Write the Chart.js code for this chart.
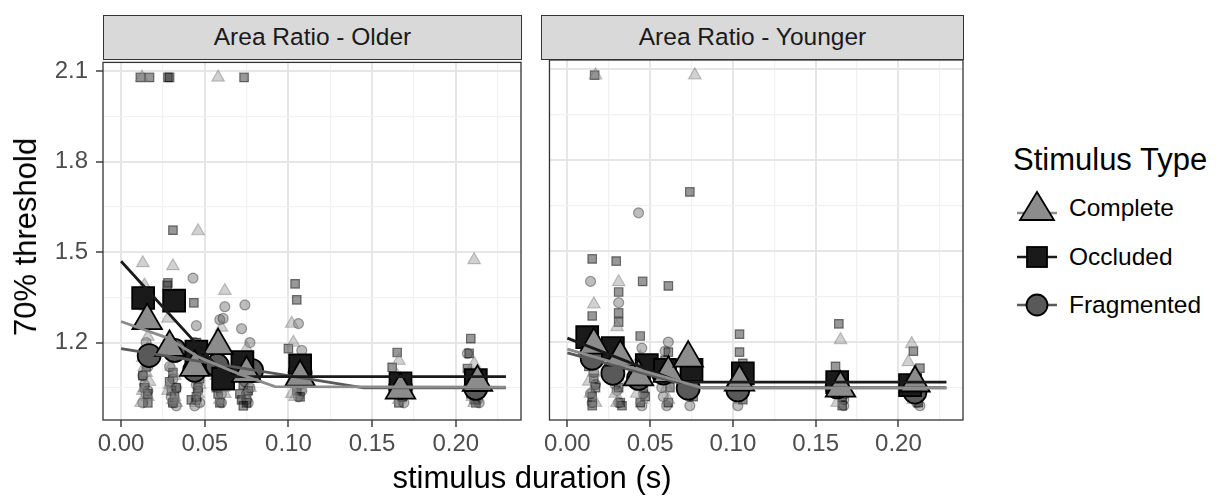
<!DOCTYPE html>
<html lang="en">
<head>
<meta charset="UTF-8">
<title>Area Ratio thresholds</title>
<script src="https://cdn.jsdelivr.net/npm/chart.js@4.4.0/dist/chart.umd.min.js"></script>
<style>
    body {
        margin: 0;
        width: 1231px;
        height: 498px;
        position: relative;
        overflow: hidden;
        background: #fff;
        font-family: "Liberation Sans", Arial, sans-serif;
    }
    .strip {
        position: absolute;
        top: 15px;
        height: 45px;
        background: #d9d9d9;
        border: 1.3px solid #333;
        box-sizing: border-box;
        text-align: center;
        line-height: 42px;
        font-size: 24.5px;
        color: #1a1a1a;
    }
    .panel { position: absolute; top: 40px; }
    #yTitle {
        position: absolute;
        left: 26px;
        top: 237px;
        transform: translate(-50%, -50%) rotate(-90deg);
        font-size: 31px;
        color: #000;
        white-space: nowrap;
    }
    #xTitle {
        position: absolute;
        left: 532px;
        top: 478px;
        transform: translate(-50%, -50%);
        font-size: 31px;
        color: #000;
        white-space: nowrap;
    }
    #legend { position: absolute; left: 1015px; top: 142px; }
    #legend .title { font-size: 31px; line-height: 36px; color: #000; margin-bottom: 6px; margin-left: -2px; }
    #legend .item { display: flex; align-items: center; height: 48.5px; }
    #legend .item span { font-size: 24.5px; color: #000; margin-left: 10px; }
</style>
</head>
<body>
<div class="strip" style="left:103px; width:419px;">Area Ratio - Older</div>
<div class="strip" style="left:541px; width:423px;">Area Ratio - Younger</div>
<div class="panel" style="left:0;"><canvas id="older" width="524" height="440"></canvas></div>
<div class="panel" style="left:541px;"><canvas id="younger" width="425" height="440"></canvas></div>
<div id="yTitle">70% threshold</div>
<div id="xTitle">stimulus duration (s)</div>
<div id="legend"></div>

<script>
// --- data ---
const stimulusTypes = ['Complete', 'Occluded', 'Fragmented'];
const xMajorTicks = [0, 0.05, 0.10, 0.15, 0.20];
const yMajorTicks = [1.2, 1.5, 1.8, 2.1];

// individual thresholds, [duration, threshold]
const olderComplete = [
    [0.0125, 2.08], [0.058, 2.08], [0.013, 1.464], [0.031, 1.454], [0.046, 1.57], [0.062, 1.372],
    [0.102, 1.263], [0.211, 1.474], [0.014, 1.39], [0.015, 1.32], [0.016, 1.22], [0.013, 1.15],
    [0.015, 1.10], [0.014, 1.05], [0.016, 1.02], [0.012, 1.00], [0.031, 1.20], [0.030, 1.12],
    [0.029, 1.06], [0.032, 1.02], [0.033, 1.00], [0.045, 1.16], [0.044, 1.09], [0.046, 1.03],
    [0.060, 1.25], [0.058, 1.12], [0.061, 1.05], [0.059, 1.01], [0.075, 1.18], [0.076, 1.08],
    [0.074, 1.02], [0.103, 1.20], [0.106, 1.10], [0.107, 1.05], [0.104, 1.02], [0.166, 1.14],
    [0.168, 1.07], [0.167, 1.03], [0.211, 1.13], [0.212, 1.07], [0.210, 1.02],
    [0.017, 1.36], [0.013, 1.28], [0.016, 1.18], [0.014, 1.12], [0.017, 1.07], [0.013, 1.04],
    [0.028, 1.28], [0.030, 1.17], [0.032, 1.09], [0.028, 1.04], [0.031, 1.01], [0.043, 1.12],
    [0.047, 1.06], [0.045, 1.00], [0.057, 1.09], [0.062, 1.03], [0.073, 1.11], [0.077, 1.05],
    [0.105, 1.07], [0.102, 1.03], [0.165, 1.09], [0.169, 1.05], [0.166, 1.01], [0.209, 1.09],
    [0.213, 1.04], [0.211, 1.00]
];
const olderOccluded = [
    [0.0115, 2.08], [0.017, 2.08], [0.028, 2.08], [0.029, 2.08], [0.0735, 2.08], [0.031, 1.573],
    [0.028, 1.398], [0.0275, 1.39], [0.0435, 1.332], [0.104, 1.395], [0.105, 1.342], [0.165, 1.167],
    [0.162, 1.118], [0.209, 1.213], [0.208, 1.164], [0.207, 1.114], [0.015, 1.12], [0.014, 1.05],
    [0.016, 1.00], [0.031, 1.10], [0.030, 1.04], [0.032, 1.02], [0.045, 1.20], [0.044, 1.15],
    [0.046, 1.05], [0.042, 1.01], [0.058, 1.20], [0.057, 1.05], [0.059, 1.00], [0.073, 1.06],
    [0.072, 1.01], [0.075, 1.00], [0.100, 1.18], [0.104, 1.12], [0.106, 1.07], [0.165, 1.04],
    [0.166, 1.00], [0.210, 1.05], [0.211, 1.01],
    [0.013, 1.09], [0.016, 1.03], [0.029, 1.07], [0.033, 1.05], [0.031, 1.00], [0.043, 1.10],
    [0.047, 1.08], [0.045, 1.02], [0.056, 1.12], [0.060, 1.08], [0.058, 1.03], [0.074, 1.09],
    [0.076, 1.04], [0.071, 1.03], [0.073, 0.99], [0.103, 1.09], [0.105, 1.04], [0.107, 1.02],
    [0.167, 1.08], [0.164, 1.06], [0.168, 1.02], [0.212, 1.08], [0.209, 1.03], [0.212, 1.00]
];
const olderFragmented = [
    [0.043, 1.414], [0.062, 1.319], [0.074, 1.325], [0.059, 1.276], [0.061, 1.28], [0.072, 1.246],
    [0.077, 1.20], [0.045, 1.256], [0.106, 1.263], [0.108, 1.174], [0.207, 1.164], [0.015, 1.20],
    [0.016, 1.12], [0.014, 1.06], [0.015, 1.03], [0.013, 1.00], [0.032, 1.15], [0.031, 1.08],
    [0.030, 1.02], [0.033, 0.99], [0.046, 1.13], [0.045, 1.06], [0.047, 1.00], [0.044, 0.99],
    [0.059, 1.09], [0.060, 1.03], [0.074, 1.07], [0.075, 1.03], [0.076, 1.00], [0.105, 1.12],
    [0.107, 1.06], [0.106, 1.02], [0.167, 1.06], [0.168, 1.02], [0.212, 1.05], [0.213, 1.01],
    [0.017, 1.16], [0.013, 1.09], [0.016, 1.04], [0.029, 1.12], [0.033, 1.05], [0.031, 1.00],
    [0.044, 1.20], [0.043, 1.10], [0.046, 1.04], [0.045, 1.01], [0.058, 1.12], [0.061, 1.06],
    [0.060, 1.00], [0.073, 1.10], [0.077, 1.05], [0.075, 1.01], [0.104, 1.08], [0.108, 1.04],
    [0.166, 1.04], [0.169, 1.00], [0.211, 1.08], [0.210, 1.03], [0.214, 1.00]
];
const youngerComplete = [
    [0.017, 2.08], [0.077, 2.08], [0.031, 1.398], [0.016, 1.325], [0.165, 1.207], [0.208, 1.194],
    [0.206, 1.134], [0.015, 1.22], [0.016, 1.10], [0.014, 1.03], [0.030, 1.25], [0.031, 1.12],
    [0.029, 1.03], [0.044, 1.15], [0.043, 1.06], [0.045, 1.01], [0.058, 1.12], [0.060, 1.05],
    [0.073, 1.17], [0.075, 1.08], [0.074, 1.03], [0.104, 1.10], [0.103, 1.04], [0.165, 1.03],
    [0.210, 1.04],
    [0.016, 1.16], [0.013, 1.07], [0.017, 1.00], [0.029, 1.17], [0.032, 1.07], [0.030, 1.00],
    [0.045, 1.09], [0.042, 1.03], [0.059, 1.09], [0.061, 1.01], [0.072, 1.11], [0.076, 1.05],
    [0.105, 1.07], [0.104, 1.01], [0.166, 1.06], [0.163, 1.00], [0.211, 1.07], [0.209, 1.01]
];
const youngerOccluded = [
    [0.0165, 2.08], [0.074, 1.695], [0.015, 1.474], [0.0295, 1.467], [0.0455, 1.40], [0.061, 1.385],
    [0.031, 1.365], [0.015, 1.286], [0.031, 1.296], [0.031, 1.266], [0.044, 1.22], [0.061, 1.167],
    [0.104, 1.226], [0.104, 1.167], [0.164, 1.26], [0.162, 1.12], [0.209, 1.17], [0.213, 1.114],
    [0.014, 1.15], [0.016, 1.08], [0.015, 1.02], [0.030, 1.20], [0.031, 1.10], [0.032, 1.00],
    [0.045, 1.13], [0.046, 1.05], [0.044, 1.00], [0.060, 1.10], [0.061, 1.00], [0.075, 1.06],
    [0.105, 1.05], [0.106, 1.13], [0.166, 1.02], [0.211, 1.03],
    [0.013, 1.12], [0.017, 1.05], [0.015, 0.99], [0.029, 1.15], [0.031, 1.05], [0.033, 0.99],
    [0.043, 1.10], [0.047, 1.02], [0.059, 1.14], [0.062, 1.05], [0.074, 1.10], [0.076, 1.02],
    [0.104, 1.08], [0.106, 1.01], [0.164, 1.05], [0.166, 0.99], [0.210, 1.06], [0.212, 1.00]
];
const youngerFragmented = [
    [0.043, 1.626], [0.014, 1.40], [0.031, 1.33], [0.061, 1.20], [0.015, 1.20], [0.016, 1.10],
    [0.015, 1.00], [0.030, 1.15], [0.029, 1.06], [0.031, 1.00], [0.045, 1.18], [0.044, 1.10],
    [0.046, 1.03], [0.059, 1.17], [0.060, 1.08], [0.058, 1.02], [0.075, 1.10], [0.074, 1.02],
    [0.103, 1.10], [0.104, 1.02], [0.166, 1.06], [0.167, 1.01], [0.210, 1.04], [0.211, 1.00],
    [0.014, 1.14], [0.017, 1.06], [0.014, 1.03], [0.031, 1.12], [0.030, 1.04], [0.046, 1.14],
    [0.043, 1.06], [0.045, 0.99], [0.061, 1.12], [0.057, 1.05], [0.060, 0.99], [0.073, 1.14],
    [0.076, 1.06], [0.074, 0.99], [0.105, 1.06], [0.103, 0.99], [0.164, 1.08], [0.168, 1.03],
    [0.167, 0.99], [0.212, 1.07], [0.209, 1.02], [0.213, 0.99]
];

// group means
const olderCompleteMean = [[0.0156, 1.273], [0.029, 1.184], [0.044, 1.118], [0.058, 1.19], [0.075, 1.098], [0.107, 1.085], [0.167, 1.042], [0.213, 1.068]];
const olderOccludedMean = [[0.0132, 1.348], [0.0317, 1.339], [0.045, 1.17], [0.061, 1.08], [0.0725, 1.135], [0.107, 1.124], [0.167, 1.065], [0.212, 1.075]];
const olderFragmentedMean = [[0.0168, 1.157], [0.032, 1.174], [0.044, 1.108], [0.0575, 1.124], [0.078, 1.108], [0.107, 1.10], [0.167, 1.052], [0.212, 1.048]];
const youngerCompleteMean = [[0.016, 1.19], [0.032, 1.15], [0.043, 1.085], [0.061, 1.097], [0.073, 1.147], [0.104, 1.068], [0.165, 1.048], [0.21, 1.065]];
const youngerOccludedMean = [[0.012, 1.216], [0.0275, 1.18], [0.048, 1.124], [0.059, 1.108], [0.075, 1.108], [0.106, 1.097], [0.163, 1.068], [0.207, 1.058]];
const youngerFragmentedMean = [[0.015, 1.147], [0.0275, 1.097], [0.043, 1.08], [0.058, 1.098], [0.073, 1.048], [0.103, 1.042], [0.163, 1.052], [0.21, 1.035]];

// fitted curves
const olderCompleteFit = [[0, 1.27], [0.028, 1.215], [0.047, 1.15], [0.07, 1.097], [0.092, 1.054], [0.23, 1.052]];
const olderOccludedFit = [[0, 1.47], [0.063, 1.087], [0.23, 1.087]];
const olderFragmentedFit = [[0, 1.18], [0.145, 1.05], [0.23, 1.05]];
const youngerCompleteFit = [[0, 1.177], [0.082, 1.048], [0.229, 1.048]];
const youngerOccludedFit = [[0, 1.213], [0.068, 1.068], [0.229, 1.068]];
const youngerFragmentedFit = [[0, 1.164], [0.078, 1.05], [0.229, 1.05]];

// --- styling ---
const shapes = { Complete: 'triangle', Occluded: 'rect', Fragmented: 'circle' };
const fills = { Complete: '#8c8c8c', Occluded: '#1a1a1a', Fragmented: '#595959' };
const faintFills = { Complete: 'rgba(140,140,140,0.4)', Occluded: 'rgba(26,26,26,0.45)', Fragmented: 'rgba(89,89,89,0.4)' };
const faintBorders = { Complete: 'rgba(110,110,110,0.4)', Occluded: 'rgba(0,0,0,0.5)', Fragmented: 'rgba(0,0,0,0.35)' };
const smallRadius = { Complete: 7.3, Occluded: 6, Fragmented: 5 };
const bigRadius = { Complete: 17, Occluded: 15.5, Fragmented: 11.5 };
const meanOrder = { Complete: 1, Occluded: 2, Fragmented: 3 };
const tickFont = { family: '"Liberation Sans", Arial, sans-serif', size: 24 };

const xy = arr => arr.map(p => ({ x: p[0], y: p[1] }));
const isMajor = (v, list) => list.some(t => Math.abs(t - v) < 1e-6);

function buildDatasets(points, means, fits) {
    const sets = [];
    stimulusTypes.forEach((t, i) => {
        sets.push({
            type: 'line', data: xy(fits[i]), borderColor: fills[t], borderWidth: 2.8,
            pointRadius: 0, fill: false, tension: 0, order: 0
        });
        sets.push({
            type: 'scatter', data: xy(means[i]), pointStyle: shapes[t], pointRadius: bigRadius[t],
            backgroundColor: fills[t], borderColor: '#000', borderWidth: 1.8, order: meanOrder[t]
        });
        sets.push({
            type: 'scatter', data: xy(points[i]), pointStyle: shapes[t], pointRadius: smallRadius[t],
            backgroundColor: faintFills[t], borderColor: faintBorders[t], borderWidth: 1.2, order: 10
        });
    });
    return sets;
}

const panelBorder = {
    id: 'panelBorder',
    afterDraw(chart) {
        const a = chart.chartArea, c = chart.ctx;
        c.save();
        c.strokeStyle = '#333';
        c.lineWidth = 1.3;
        c.strokeRect(a.left, a.top, a.right - a.left, a.bottom - a.top);
        c.restore();
    }
};

function makeOptions(showY) {
    return {
        responsive: false,
        animation: false,
        layout: { autoPadding: false, padding: { left: 0, right: 3, top: 20, bottom: 0 } },
        plugins: { legend: { display: false }, tooltip: { enabled: false } },
        scales: {
            x: {
                type: 'linear', min: -0.0108, max: 0.239,
                afterFit: s => { s.height = 60; },
                ticks: {
                    stepSize: 0.025, includeBounds: false, autoSkip: false, maxRotation: 0,
                    padding: 3, color: '#4d4d4d', font: tickFont,
                    callback: v => isMajor(v, xMajorTicks) ? v.toFixed(2) : ''
                },
                grid: {
                    color: c => c.tick && isMajor(c.tick.value, xMajorTicks) ? '#e6e6e6' : '#f1f1f1',
                    lineWidth: c => c.tick && isMajor(c.tick.value, xMajorTicks) ? 2 : 1.2,
                    tickColor: c => c.tick && isMajor(c.tick.value, xMajorTicks) ? '#333' : 'rgba(0,0,0,0)',
                    tickWidth: 1.4, tickLength: 7
                },
                border: { display: false }
            },
            y: {
                type: 'linear', min: 0.943, max: 2.13,
                afterFit: s => { s.width = showY ? 103 : 0; },
                ticks: {
                    display: showY, stepSize: 0.15, includeBounds: false, autoSkip: false,
                    padding: 8, color: '#4d4d4d', font: tickFont,
                    callback: v => isMajor(v, yMajorTicks) ? v.toFixed(1) : ''
                },
                grid: {
                    color: c => c.tick && isMajor(c.tick.value, yMajorTicks) ? '#e6e6e6' : '#f1f1f1',
                    lineWidth: c => c.tick && isMajor(c.tick.value, yMajorTicks) ? 2 : 1.2,
                    tickColor: c => c.tick && isMajor(c.tick.value, yMajorTicks) ? '#333' : 'rgba(0,0,0,0)',
                    tickWidth: 1.4, tickLength: 7, drawTicks: showY
                },
                border: { display: false }
            }
        }
    };
}

new Chart(document.getElementById('older'), {
    type: 'scatter',
    data: { datasets: buildDatasets(
        [olderComplete, olderOccluded, olderFragmented],
        [olderCompleteMean, olderOccludedMean, olderFragmentedMean],
        [olderCompleteFit, olderOccludedFit, olderFragmentedFit]) },
    options: makeOptions(true),
    plugins: [panelBorder]
});

new Chart(document.getElementById('younger'), {
    type: 'scatter',
    data: { datasets: buildDatasets(
        [youngerComplete, youngerOccluded, youngerFragmented],
        [youngerCompleteMean, youngerOccludedMean, youngerFragmentedMean],
        [youngerCompleteFit, youngerOccludedFit, youngerFragmentedFit]) },
    options: makeOptions(false),
    plugins: [panelBorder]
});

// legend drawn as html + small svg keys
const legend = document.getElementById('legend');
legend.innerHTML = '<div class="title">Stimulus Type</div>';
const keySvg = {
    Complete: '<polygon points="22,4 39,32 5,32" fill="#8c8c8c" stroke="#000" stroke-width="1.8"/>',
    Occluded: '<rect x="12" y="10" width="20" height="20" fill="#1a1a1a" stroke="#000" stroke-width="1.8"/>',
    Fragmented: '<circle cx="22" cy="20" r="10.5" fill="#595959" stroke="#000" stroke-width="1.8"/>'
};
stimulusTypes.forEach(t => {
    const row = document.createElement('div');
    row.className = 'item';
    row.innerHTML = '<svg width="44" height="40" viewBox="0 0 44 40">' +
        '<line x1="2" y1="' + (t === 'Complete' ? 25 : 20) + '" x2="42" y2="' + (t === 'Complete' ? 25 : 20) +
        '" stroke="' + fills[t] + '" stroke-width="2.6"/>' + keySvg[t] + '</svg>' +
        '<span>' + t + '</span>';
    legend.appendChild(row);
});
</script>
</body>
</html>
